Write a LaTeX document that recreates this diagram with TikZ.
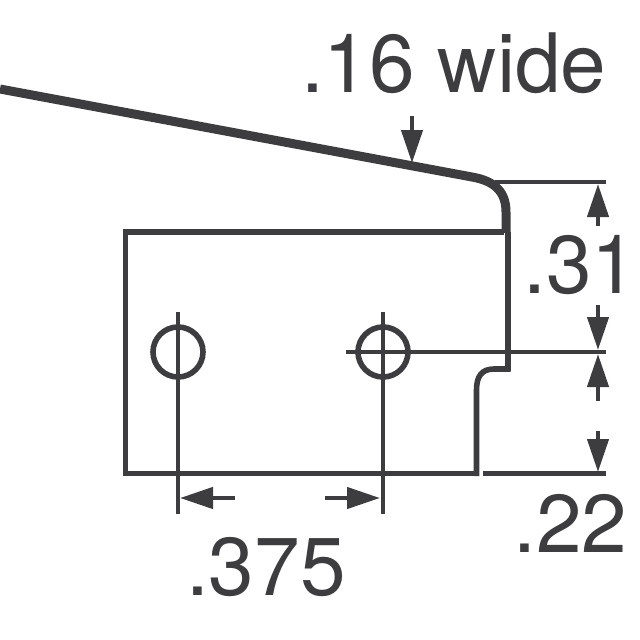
\documentclass[tikz,border=0pt]{standalone}
\usepackage{fontspec}
\setmainfont{TeX Gyre Heros}
\usetikzlibrary{arrows.meta}
\definecolor{ink}{HTML}{3D3D3F}
\tikzset{
  body/.style={draw=ink,line width=5.6pt,line join=miter},
  thin dim/.style={draw=ink,line width=4.3pt},
  lever/.style={draw=ink,line width=9pt,line join=round},
  dimarrow/.style={draw=ink,line width=4.3pt,-{Triangle[length=33pt,width=21pt,color=ink]}},
  dimtext/.style={text=ink,anchor=base west,inner sep=0pt,font=\fontsize{82}{82}\selectfont},
}
\begin{document}
\begin{tikzpicture}[x=1pt,y=-1pt]
\useasboundingbox (0,0) rectangle (640,640);
% lever
\draw[lever] (0,89) -- (472,177) .. controls (495,181) and (506,192) .. (506,212) -- (506,233);
% body
\draw[body] (504,232) -- (125.5,232) -- (125.5,473.5) -- (478,473.5);
\draw[body] (476.5,476) -- (476.5,390) .. controls (476.5,376) and (482,369) .. (494,369) -- (510.5,369);
\draw[body] (508,232) -- (508,371);
% holes
\draw[body] (178,352) circle (25);
\draw[body] (383,352) circle (25);
% extension lines
\draw[thin dim] (178,312) -- (178,514);
\draw[thin dim] (383,312) -- (383,514);
\draw[thin dim] (346,352) -- (606,352);
\draw[thin dim] (495,182) -- (606,182);
\draw[thin dim] (483,473.5) -- (606,473.5);
% arrows
\draw[dimarrow] (412,116) -- (412,163);
\draw[dimarrow] (598,226) -- (598,184);
\draw[dimarrow] (598,305) -- (598,350);
\draw[dimarrow] (598,401) -- (598,354);
\draw[dimarrow] (598,431) -- (598,472);
\draw[dimarrow] (235,498) -- (180,498);
\draw[dimarrow] (325,498) -- (380,498);
% labels
\node[dimtext] (wide) at (301,92) {.16 wide};
\node[dimtext] (h31) at (523,293) {.31};
\node[dimtext] (h22) at (513,552) {.22};
\node[dimtext] (w375) at (186,595) {.375};
\end{tikzpicture}
\end{document}
